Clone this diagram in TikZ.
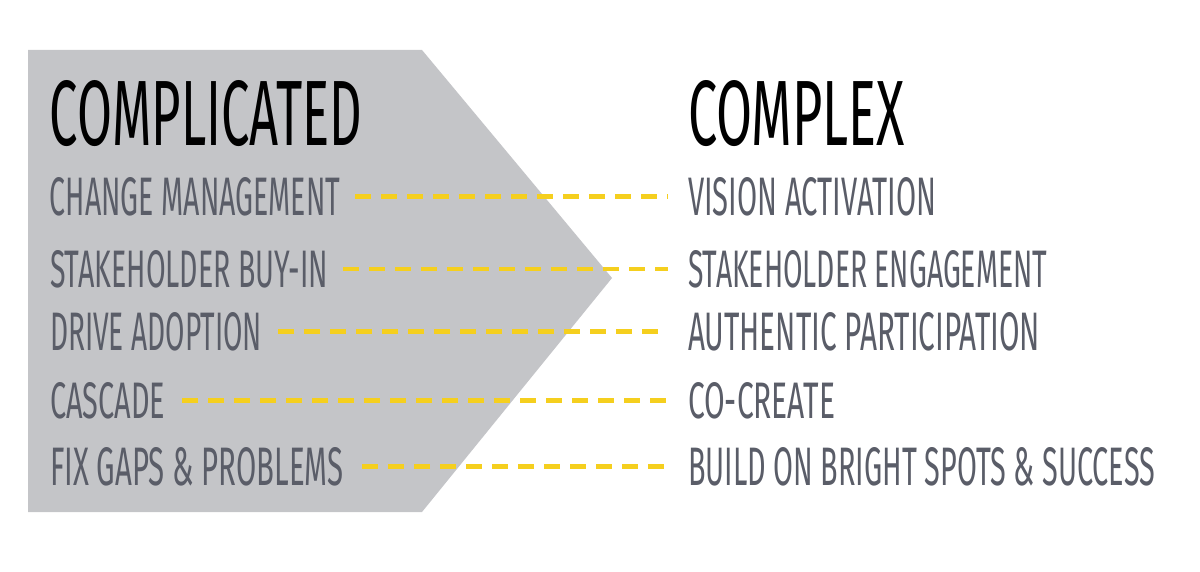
\documentclass[tikz,border=0pt]{standalone}
\usepackage{fontspec}
\setmainfont{Fira Sans}
\usepackage{graphicx}
\definecolor{shapegray}{HTML}{C4C5C8}
\definecolor{itemc}{HTML}{5A5D68}
\definecolor{dashyellow}{HTML}{F5CF1E}
\tikzset{
  txt/.style={anchor=base west,inner sep=0pt,outer sep=0pt,text=itemc},
  ttl/.style={anchor=base west,inner sep=0pt,outer sep=0pt,text=black},
  link/.style={draw=dashyellow,line width=3.2pt,dash pattern=on 0.4cm off 0.25cm},
}
\begin{document}
\begin{tikzpicture}[x=0.025cm,y=-0.025cm]
\useasboundingbox (0,0) rectangle (1200,571);
\fill[shapegray] (28,50) -- (422,50) -- (612,278) -- (422,512) -- (28,512) -- cycle;
\node[ttl] (t1) at (50,145) {\resizebox{7.8cm}{1.625cm}{COMPLICATED}};
\node[ttl] (t2) at (688,145) {\resizebox{5.425cm}{1.625cm}{COMPLEX}};
\node[txt] (l1) at (50,215) {\resizebox{7.25cm}{0.95cm}{CHANGE MANAGEMENT}};
\node[txt] (l2) at (50,287) {\resizebox{6.95cm}{0.925cm}{STAKEHOLDER BUY-IN}};
\node[txt] (l3) at (50,350) {\resizebox{5.3cm}{0.95cm}{DRIVE ADOPTION}};
\node[txt] (l4) at (50,418) {\resizebox{2.875cm}{0.9cm}{CASCADE}};
\node[txt] (l5) at (50,485) {\resizebox{7.325cm}{0.95cm}{FIX GAPS \& PROBLEMS}};
\node[txt] (r1) at (688,215) {\resizebox{6.2cm}{0.95cm}{VISION ACTIVATION}};
\node[txt] (r2) at (688,287) {\resizebox{8.975cm}{0.925cm}{STAKEHOLDER ENGAGEMENT}};
\node[txt] (r3) at (688,350) {\resizebox{8.8cm}{0.95cm}{AUTHENTIC PARTICIPATION}};
\node[txt] (r4) at (688,418) {\resizebox{3.675cm}{0.9cm}{CO-CREATE}};
\node[txt] (r5) at (688,485) {\resizebox{11.675cm}{0.95cm}{BUILD ON BRIGHT SPOTS \& SUCCESS}};
\draw[link] ([xshift=0.375cm]l1.east) -- ([xshift=-0.5cm]r1.west);
\draw[link] ([xshift=0.375cm]l2.east) -- ([xshift=-0.5cm]r2.west);
\draw[link] ([xshift=0.4cm]l3.east) -- ([xshift=-0.5cm]r3.west);
\draw[link] ([xshift=0.425cm]l4.east) -- ([xshift=-0.5cm]r4.west);
\draw[link] ([xshift=0.475cm]l5.east) -- ([xshift=-0.5cm]r5.west);
\end{tikzpicture}
\end{document}
